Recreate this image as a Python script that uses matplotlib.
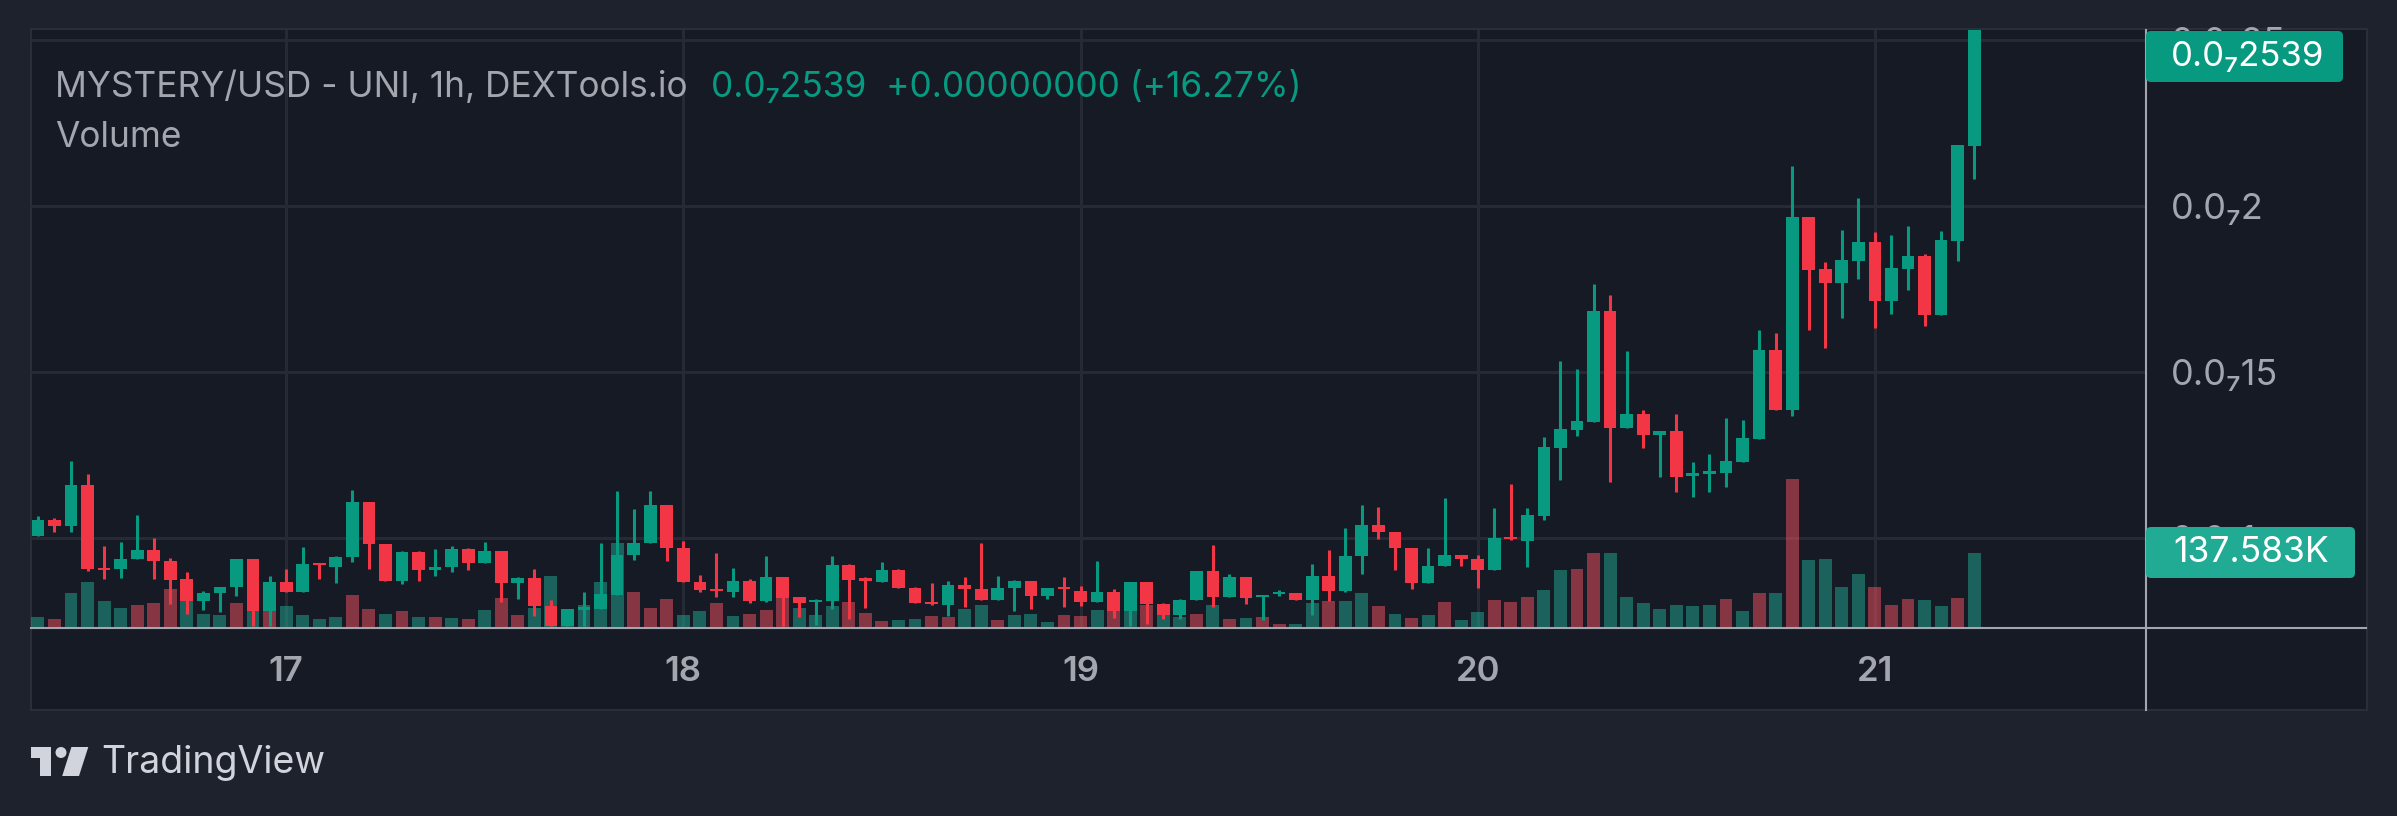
import numpy as np
import matplotlib.pyplot as plt
from matplotlib.patches import Rectangle, FancyBboxPatch, Circle, Polygon
from matplotlib.lines import Line2D
from matplotlib.transforms import IdentityTransform

plt.rcParams['font.family'] = ['Inter', 'DejaVu Sans']

# hourly candles, x = hours since the 17th 00:00, prices in units of 1e-8
hours = np.arange(-15, 103)
open_ = [1.007, 1.055, 1.035, 1.161, 0.911, 0.906, 0.936, 0.965, 0.932, 0.875,
         0.809, 0.833, 0.851, 0.938, 0.781, 0.868, 0.838, 0.925, 0.912, 0.942,
         1.109, 0.983, 0.869, 0.959, 0.903, 0.912, 0.968, 0.924, 0.962, 0.863,
         0.878, 0.796, 0.734, 0.784, 0.787, 0.829, 0.948, 0.984, 1.100, 0.971,
         0.868, 0.847, 0.836, 0.871, 0.809, 0.884, 0.821, 0.806, 0.809, 0.920,
         0.878, 0.866, 0.905, 0.850, 0.808, 0.797, 0.859, 0.847, 0.812, 0.848,
         0.871, 0.824, 0.853, 0.841, 0.806, 0.838, 0.779, 0.868, 0.802, 0.767,
         0.812, 0.902, 0.821, 0.884, 0.821, 0.830, 0.835, 0.812, 0.887, 0.839,
         0.945, 1.040, 1.019, 0.971, 0.863, 0.915, 0.950, 0.938, 0.903, 1.004,
         0.992, 1.067, 1.272, 1.326, 1.350, 1.684, 1.332, 1.373, 1.311, 1.322,
         1.188, 1.194, 1.197, 1.230, 1.298, 1.567, 1.387, 1.967, 1.810, 1.768,
         1.835, 1.891, 1.715, 1.810, 1.849, 1.673, 1.896, 2.182]
high = [1.067, 1.061, 1.233, 1.194, 0.977, 0.989, 1.070, 1.001, 0.941, 0.899,
        0.841, 0.853, 0.938, 0.938, 0.887, 0.908, 0.974, 0.925, 0.947, 1.146,
        1.109, 0.983, 0.962, 0.962, 0.968, 0.977, 0.971, 0.989, 0.962, 0.884,
        0.908, 0.814, 0.787, 0.838, 0.986, 1.143, 1.088, 1.143, 1.100, 0.992,
        0.890, 0.956, 0.911, 0.877, 0.947, 0.884, 0.823, 0.817, 0.947, 0.923,
        0.881, 0.929, 0.908, 0.853, 0.865, 0.871, 0.881, 0.986, 0.887, 0.874,
        0.871, 0.850, 0.881, 0.856, 0.932, 0.847, 0.868, 0.868, 0.805, 0.817,
        0.902, 0.980, 0.893, 0.884, 0.829, 0.844, 0.835, 0.923, 0.965, 1.031,
        1.100, 1.094, 1.019, 0.971, 0.971, 1.121, 0.950, 0.950, 1.091, 1.164,
        1.090, 1.304, 1.533, 1.509, 1.765, 1.732, 1.563, 1.386, 1.322, 1.373,
        1.229, 1.253, 1.361, 1.355, 1.626, 1.617, 2.121, 1.967, 1.831, 1.927,
        2.023, 1.922, 1.912, 1.939, 1.856, 1.925, 2.184, 2.539]
low = [1.007, 1.017, 1.017, 0.900, 0.876, 0.878, 0.936, 0.876, 0.800, 0.770,
       0.782, 0.776, 0.824, 0.734, 0.734, 0.838, 0.838, 0.876, 0.863, 0.927,
       0.906, 0.869, 0.860, 0.869, 0.885, 0.897, 0.903, 0.924, 0.806, 0.815,
       0.764, 0.734, 0.734, 0.734, 0.787, 0.829, 0.933, 0.984, 0.930, 0.866,
       0.836, 0.821, 0.821, 0.803, 0.806, 0.734, 0.761, 0.737, 0.785, 0.755,
       0.788, 0.866, 0.848, 0.803, 0.797, 0.764, 0.791, 0.812, 0.812, 0.779,
       0.785, 0.815, 0.791, 0.794, 0.806, 0.758, 0.734, 0.740, 0.757, 0.757,
       0.812, 0.791, 0.821, 0.800, 0.752, 0.824, 0.812, 0.767, 0.809, 0.836,
       0.891, 0.996, 0.903, 0.845, 0.863, 0.915, 0.915, 0.848, 0.903, 0.993,
       0.914, 1.055, 1.176, 1.308, 1.350, 1.170, 1.332, 1.272, 1.185, 1.140,
       1.124, 1.140, 1.155, 1.230, 1.298, 1.387, 1.367, 1.626, 1.572, 1.663,
       1.781, 1.633, 1.674, 1.748, 1.639, 1.673, 1.833, 2.082]
close = [1.055, 1.035, 1.161, 0.906, 0.903, 0.938, 0.965, 0.930, 0.872, 0.809,
         0.835, 0.853, 0.938, 0.781, 0.868, 0.838, 0.923, 0.918, 0.944, 1.109,
         0.981, 0.869, 0.959, 0.903, 0.914, 0.968, 0.924, 0.962, 0.863, 0.878,
         0.794, 0.734, 0.787, 0.793, 0.832, 0.950, 0.986, 1.100, 0.969, 0.866,
         0.842, 0.839, 0.871, 0.809, 0.884, 0.818, 0.803, 0.814, 0.920, 0.872,
         0.869, 0.905, 0.848, 0.803, 0.800, 0.859, 0.845, 0.812, 0.850, 0.871,
         0.824, 0.850, 0.845, 0.806, 0.838, 0.779, 0.868, 0.800, 0.767, 0.814,
         0.902, 0.821, 0.884, 0.818, 0.829, 0.838, 0.812, 0.887, 0.839, 0.947,
         1.040, 1.017, 0.969, 0.863, 0.917, 0.950, 0.936, 0.903, 1.001, 0.996,
         1.069, 1.274, 1.328, 1.352, 1.684, 1.332, 1.373, 1.311, 1.322, 1.185,
         1.196, 1.202, 1.232, 1.301, 1.567, 1.387, 1.967, 1.807, 1.768, 1.837,
         1.891, 1.715, 1.814, 1.849, 1.673, 1.897, 2.184, 2.539]
# volume in thousands, and whether the volume bar is drawn as "up"
volume = [18.6, 14.9, 63.3, 83.8, 48.4, 35.4, 41.0, 44.7, 70.8, 57.7,
          24.2, 22.3, 44.7, 61.4, 70.8, 39.1, 22.3, 14.9, 18.6, 59.6,
          33.5, 24.2, 29.8, 18.6, 18.6, 16.8, 14.9, 31.7, 54.0, 22.3,
          35.4, 95.0, 16.8, 41.0, 83.8, 156.4, 65.2, 35.4, 52.1, 22.3,
          29.8, 44.7, 20.5, 24.2, 31.7, 54.0, 35.4, 22.3, 39.1, 46.6,
          26.1, 11.2, 13.0, 14.9, 20.5, 18.6, 33.5, 41.0, 13.0, 22.3,
          24.2, 9.3, 22.3, 20.5, 31.7, 29.8, 33.5, 41.0, 22.3, 18.6,
          24.2, 41.0, 14.9, 16.8, 18.6, 5.6, 5.6, 44.7, 48.4, 48.4,
          63.3, 39.1, 24.2, 16.8, 22.3, 46.6, 13.0, 27.9, 50.3, 46.6,
          55.9, 68.9, 106.1, 108.0, 137.8, 137.8, 55.9, 44.7, 33.5, 41.0,
          39.1, 41.0, 52.1, 29.8, 63.5, 63.5, 275.6, 125.0, 126.5, 74.3,
          99.0, 74.3, 41.1, 51.9, 50.5, 38.9, 54.0, 137.583]
vol_up = "grggggrrrgggrgrgggg rrgrgrgrgrrggggggrrrggrgrrrgggrrrggrrggrgggrrg rgrggrgrgrrgg rggrgrgrggrrrggrrgggggggrgrgrggggrrrgg rggrggg".replace(" ", "")

day_ticks = [0, 24, 48, 72, 96]
day_labels = ['17', '18', '19', '20', '21']
price_ticks = [1.0, 1.5, 2.0, 2.5]
price_labels = ['0.0\u20871', '0.0\u208715', '0.0\u20872', '0.0\u208725']

UP, DOWN = '#089981', '#f23645'
VOL_UP, VOL_DOWN = '#22ab94', '#f7525f'
BG, PANEL, GRID = '#1e222d', '#161a25', '#262a35'
TXT = '#a3a6af'

W, H = 2397, 816
fig = plt.figure(figsize=(W / 100, H / 100), dpi=100)
fig.patch.set_facecolor(BG)
pix = IdentityTransform()


def fx(px):
    return px / W


def fy(py):
    return 1 - py / H


# chart panel
fig.add_artist(Rectangle((fx(30.6), fy(710)), fx(2366.7) - fx(30.6), (710 - 29) / H,
                         transform=fig.transFigure, facecolor=PANEL,
                         edgecolor='#2a2e39', lw=1.5, zorder=0))

rect = [fx(30.6), fy(627), fx(2146) - fx(30.6), (627 - 30) / H]
xlim = (-15.44, 112.38)
ylim = (0.7319, 2.5301)

# grid layer
ax_g = fig.add_axes(rect)
ax_g.patch.set_alpha(0)
ax_g.set_xlim(*xlim)
ax_g.set_ylim(*ylim)
ax_g.set_xticks(day_ticks)
ax_g.set_yticks(price_ticks)
ax_g.grid(True, color=GRID, lw=2.2)
ax_g.tick_params(length=0, labelbottom=False, labelleft=False)
for s in ax_g.spines.values():
    s.set_visible(False)

# volume layer
vol_cols = [VOL_UP if c == 'g' else VOL_DOWN for c in vol_up]
ax_v = fig.add_axes(rect)
ax_v.patch.set_alpha(0)
ax_v.bar(hours, volume, width=0.78, color=vol_cols, alpha=0.5, linewidth=0)
ax_v.set_xlim(*xlim)
ax_v.set_ylim(0, 1111.6)
ax_v.axis('off')

# candles
o = np.array(open_)
c = np.array(close)
cols = np.where(c >= o, UP, DOWN)
ax = fig.add_axes(rect)
ax.patch.set_alpha(0)
ax.vlines(hours, low, high, colors=cols, linewidth=2.2)
ax.bar(hours, np.abs(c - o), bottom=np.minimum(o, c), width=0.77, color=cols, linewidth=0)
ax.set_xlim(*xlim)
ax.set_ylim(*ylim)
ax.set_xticks(day_ticks)
ax.set_xticklabels(day_labels)
ax.yaxis.tick_right()
ax.set_yticks(price_ticks)
ax.set_yticklabels(price_labels)
ax.tick_params(axis='y', length=0, pad=18, labelsize=26, labelcolor=TXT)
ax.tick_params(axis='x', length=0, pad=21, labelsize=25, labelcolor=TXT)
for lab in ax.get_xticklabels():
    lab.set_fontweight('semibold')
for s in ax.spines.values():
    s.set_visible(False)

# axis lines
fig.add_artist(Line2D([fx(30.6), fx(2366)], [fy(627.5), fy(627.5)],
                      transform=fig.transFigure, color='#a3a6af', lw=1.5))
fig.add_artist(Line2D([fx(2146), fx(2146)], [fy(30), fy(710)],
                      transform=fig.transFigure, color='#a3a6af', lw=1.5))

# last price / volume labels
fig.add_artist(FancyBboxPatch((2146, H - 82), 197, 51, boxstyle='round,pad=0,rounding_size=5',
                              transform=pix, facecolor=UP, edgecolor='none', zorder=5))
fig.text(fx(2171), fy(57), '0.0\u20872539', color='white', fontsize=25, va='center', zorder=6)
fig.add_artist(FancyBboxPatch((2146, H - 578), 209, 51, boxstyle='round,pad=0,rounding_size=5',
                              transform=pix, facecolor=VOL_UP, edgecolor='none', zorder=5))
fig.text(fx(2173), fy(553), '137.583K', color='white', fontsize=25.5, va='center', zorder=6)

# legend texts
fig.text(fx(55), fy(96.7), 'MYSTERY/USD - UNI, 1h, DEXTools.io', color=TXT, fontsize=25.4, va='baseline')
fig.text(fx(711), fy(96.7), '0.0\u20872539  +0.00000000 (+16.27%)', color=UP, fontsize=25.4, va='baseline')
fig.text(fx(55), fy(146.7), 'Volume', color=TXT, fontsize=25.4, va='baseline')

# TradingView mark
LOGO = '#d1d4dc'
fig.add_artist(Rectangle((30.6, H - 758), 20.4, 11, transform=pix, color=LOGO, lw=0))
fig.add_artist(Rectangle((39.8, H - 776), 11.2, 29, transform=pix, color=LOGO, lw=0))
fig.add_artist(Circle((61, H - 752.5), 5.5, transform=pix, color=LOGO, lw=0))
fig.add_artist(Polygon([(71.4, H - 747), (88.3, H - 747), (79, H - 776), (62.2, H - 776)],
                       transform=pix, color=LOGO, lw=0))
fig.text(fx(101), fy(773), 'TradingView', color=LOGO, fontsize=27, va='baseline')

fig.savefig('out.png', dpi=100, facecolor=BG)
